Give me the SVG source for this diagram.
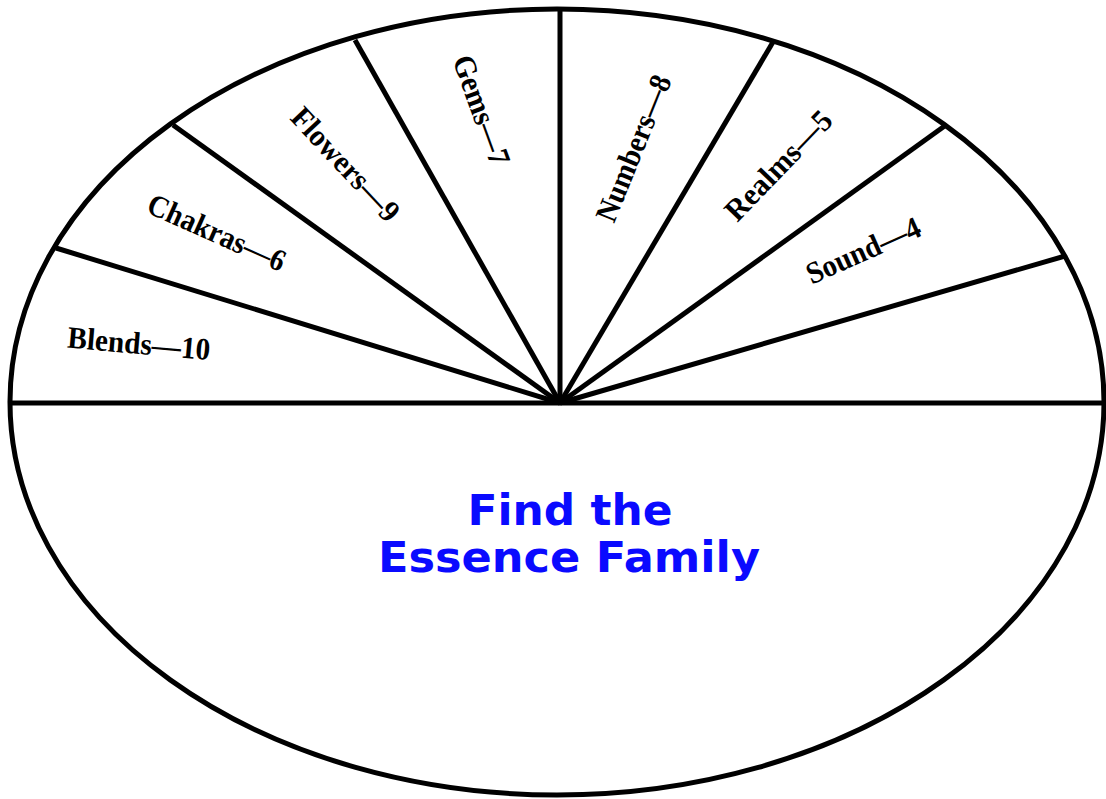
<svg xmlns="http://www.w3.org/2000/svg" width="1106" height="799" viewBox="0 0 1106 799">
<style>
.ln{stroke:#000;stroke-width:5;fill:none;stroke-linecap:butt}
.lbl{font-family:"Liberation Serif","Times New Roman",serif;font-weight:bold;font-size:31px;fill:#000;text-anchor:middle}
.title{font-family:"DejaVu Sans",sans-serif;font-weight:bold;font-size:42px;fill:#0a0aff;text-anchor:middle}
</style>
<rect width="1106" height="799" fill="#fff"/>
<g id="outline">
<ellipse cx="557" cy="402" rx="547" ry="393" class="ln"/>
</g>
<g id="connectors">
<line x1="10" y1="403" x2="1104" y2="403" class="ln"/>
<line x1="560" y1="403" x2="56" y2="248" class="ln"/>
<line x1="560" y1="403" x2="173" y2="125" class="ln"/>
<line x1="560" y1="403" x2="355" y2="40" class="ln"/>
<line x1="560" y1="403" x2="560" y2="8" class="ln"/>
<line x1="560" y1="403" x2="773" y2="42" class="ln"/>
<line x1="560" y1="403" x2="946" y2="125" class="ln"/>
<line x1="560" y1="403" x2="1065" y2="256" class="ln"/>
</g>
<g id="blends"><text class="lbl" transform="translate(139,343) rotate(5)" dy=".35em" textLength="143" lengthAdjust="spacingAndGlyphs">Blends—10</text></g>
<g id="chakras"><text class="lbl" transform="translate(217,232) rotate(24)" dy=".35em" textLength="148" lengthAdjust="spacingAndGlyphs">Chakras—6</text></g>
<g id="flowers"><text class="lbl" transform="translate(346,164) rotate(47)" dy=".35em" textLength="144" lengthAdjust="spacingAndGlyphs">Flowers—9</text></g>
<g id="gems"><text class="lbl" transform="translate(482,110) rotate(70)" dy=".35em" textLength="115" lengthAdjust="spacingAndGlyphs">Gems—7</text></g>
<g id="numbers"><text class="lbl" transform="translate(633,148) rotate(-68)" dy=".35em" textLength="155" lengthAdjust="spacingAndGlyphs">Numbers—8</text></g>
<g id="realms"><text class="lbl" transform="translate(778,165) rotate(-46)" dy=".35em" textLength="140" lengthAdjust="spacingAndGlyphs">Realms—5</text></g>
<g id="sound"><text class="lbl" transform="translate(863,250) rotate(-24)" dy=".35em" textLength="122" lengthAdjust="spacingAndGlyphs">Sound—4</text></g>
<g id="title">
<text class="title" x="570" y="525" textLength="205" lengthAdjust="spacingAndGlyphs">Find the</text>
<text class="title" x="569" y="572" textLength="382" lengthAdjust="spacingAndGlyphs">Essence Family</text>
</g>
</svg>
